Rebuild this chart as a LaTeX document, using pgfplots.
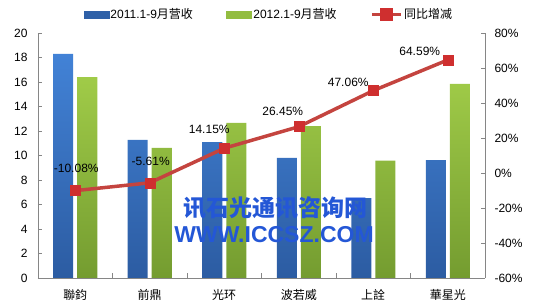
\documentclass[border=0pt]{standalone}
\usepackage{pgfplots}
\usepackage{pgfplotstable}
\pgfplotsset{compat=1.18}
\usepackage{fontspec}
\usepackage{pdfrender}
\setmainfont{Liberation Sans}
\newfontfamily\cjk{Noto Sans CJK SC}
\definecolor{blueTop}{HTML}{4282D6}
\definecolor{blueBot}{HTML}{2C5CA2}
\definecolor{greenTop}{HTML}{A0CB48}
\definecolor{greenBot}{HTML}{749C30}
\definecolor{lineRed}{HTML}{C4443F}
\definecolor{markRed}{HTML}{CF2F2F}
\definecolor{axisGray}{HTML}{868686}
\definecolor{wmBlue}{HTML}{2457D6}
\definecolor{wmDark}{HTML}{1838A8}

\pgfplotstableread{
x a b
0 18.29 16.40
1 11.27 10.62
2 11.10 12.67
3 9.80 12.39
4 6.51 9.58
5 9.63 15.85
}\revtable
\pgfplotstableread{
x g dx dy
0 -10.08 1 22
1 -5.61 1 21
2 14.15 -15 19
3 26.45 -16 15
4 47.06 -25 8
5 64.59 -28 9
}\growtable

\begin{document}
\begin{tikzpicture}
\path[use as bounding box] (0pt,0pt) rectangle (536pt,307pt);
\pgfplotsset{
  common/.style={
    at={(38pt,29pt)}, anchor=south west,
    scale only axis, width=447pt, height=245pt,
    xmin=-0.5, xmax=5.5,
    font=\fontsize{12}{14}\selectfont,
    /pgf/number format/assume math mode=true,
    tick align=inside,
    major tick length=4pt,
    axis line style={draw=axisGray},
    tick style={draw=axisGray},
  }
}
\begin{axis}[
  common,
  ymin=0, ymax=20, ytick={0,2,...,20},
  axis x line*=bottom, axis y line*=left,
  xtick={0,...,5},
  xticklabels={{\cjk 聯鈞},{\cjk 前鼎},{\cjk 光环},{\cjk 波若威},{\cjk 上詮},{\cjk 華星光}},
  major x tick style={draw=none},
  minor xtick={-0.5,0.5,...,5.5},
  minor tick length=5pt,
  xticklabel style={yshift=-8pt},
  yticklabel style={xshift=-7pt},
]
\addplot[ybar, bar width=20pt, bar shift=-12pt, draw=none, top color=blueTop, bottom color=blueBot] table[x=x,y=a]{\revtable};
\addplot[ybar, bar width=20pt, bar shift=12pt, draw=none, top color=greenTop, bottom color=greenBot] table[x=x,y=b]{\revtable};
\end{axis}
\begin{axis}[
  common,
  ymin=-60, ymax=80, ytick={-60,-40,...,80},
  axis y line*=right, axis x line=none,
  yticklabel={\pgfmathprintnumber{\tick}\%},
  yticklabel style={anchor=west, xshift=6pt},
  legend columns=3,
  legend style={at={(axis description cs:0.516,1)}, anchor=south, yshift=9pt,
    draw=none, fill=none, font=\fontsize{12}{14}\selectfont,
    /tikz/every even column/.append style={column sep=32pt},
    nodes={inner sep=1.5pt}},
]
\addlegendimage{legend image code/.code={\fill[blueBot!90!blueTop] (0pt,-3.5pt) rectangle (25pt,3.5pt);}}
\addlegendentry{2011.1-9{\cjk 月营收}}
\addlegendimage{legend image code/.code={\fill[greenTop!70!greenBot] (0pt,-3.5pt) rectangle (25pt,3.5pt);}}
\addlegendentry{2012.1-9{\cjk 月营收}}
\addplot[color=lineRed, line width=3.5pt, mark=square*, mark size=5pt,
  mark options={fill=markRed, draw=markRed, line width=0.5pt},
  legend image code/.code={\draw[lineRed, line width=3.5pt] (0pt,0pt) -- (29pt,0pt); \fill[markRed] (10pt,-4.5pt) rectangle (19pt,4.5pt);},
  point meta=explicit,
  visualization depends on={\thisrow{dx} \as \ldx},
  visualization depends on={\thisrow{dy} \as \ldy},
  nodes near coords={\pgfmathprintnumber[fixed,fixed zerofill,precision=2]{\pgfplotspointmeta}\%},
  every node near coord/.append style={anchor=center, xshift=\ldx pt, yshift=\ldy pt, text=black, font=\fontsize{12}{14}\selectfont},
] table[x=x,y=g,meta=g]{\growtable};
\addlegendentry{{\cjk 同比增减}}
\end{axis}
\node[inner sep=0pt, text=wmBlue] at (275pt,99pt) {\textpdfrender{TextRenderingMode=FillStroke, LineWidth=1pt, StrokeColor=white}{\fontsize{23}{23}\selectfont\cjk\bfseries 讯石光通讯咨询网}};
\node[inner sep=0pt, text=wmBlue] at (274pt,72pt) {\textpdfrender{TextRenderingMode=FillStroke, LineWidth=1pt, StrokeColor=white}{\fontsize{23}{23}\selectfont\bfseries WWW.ICCSZ.COM}};
\end{tikzpicture}
\end{document}
